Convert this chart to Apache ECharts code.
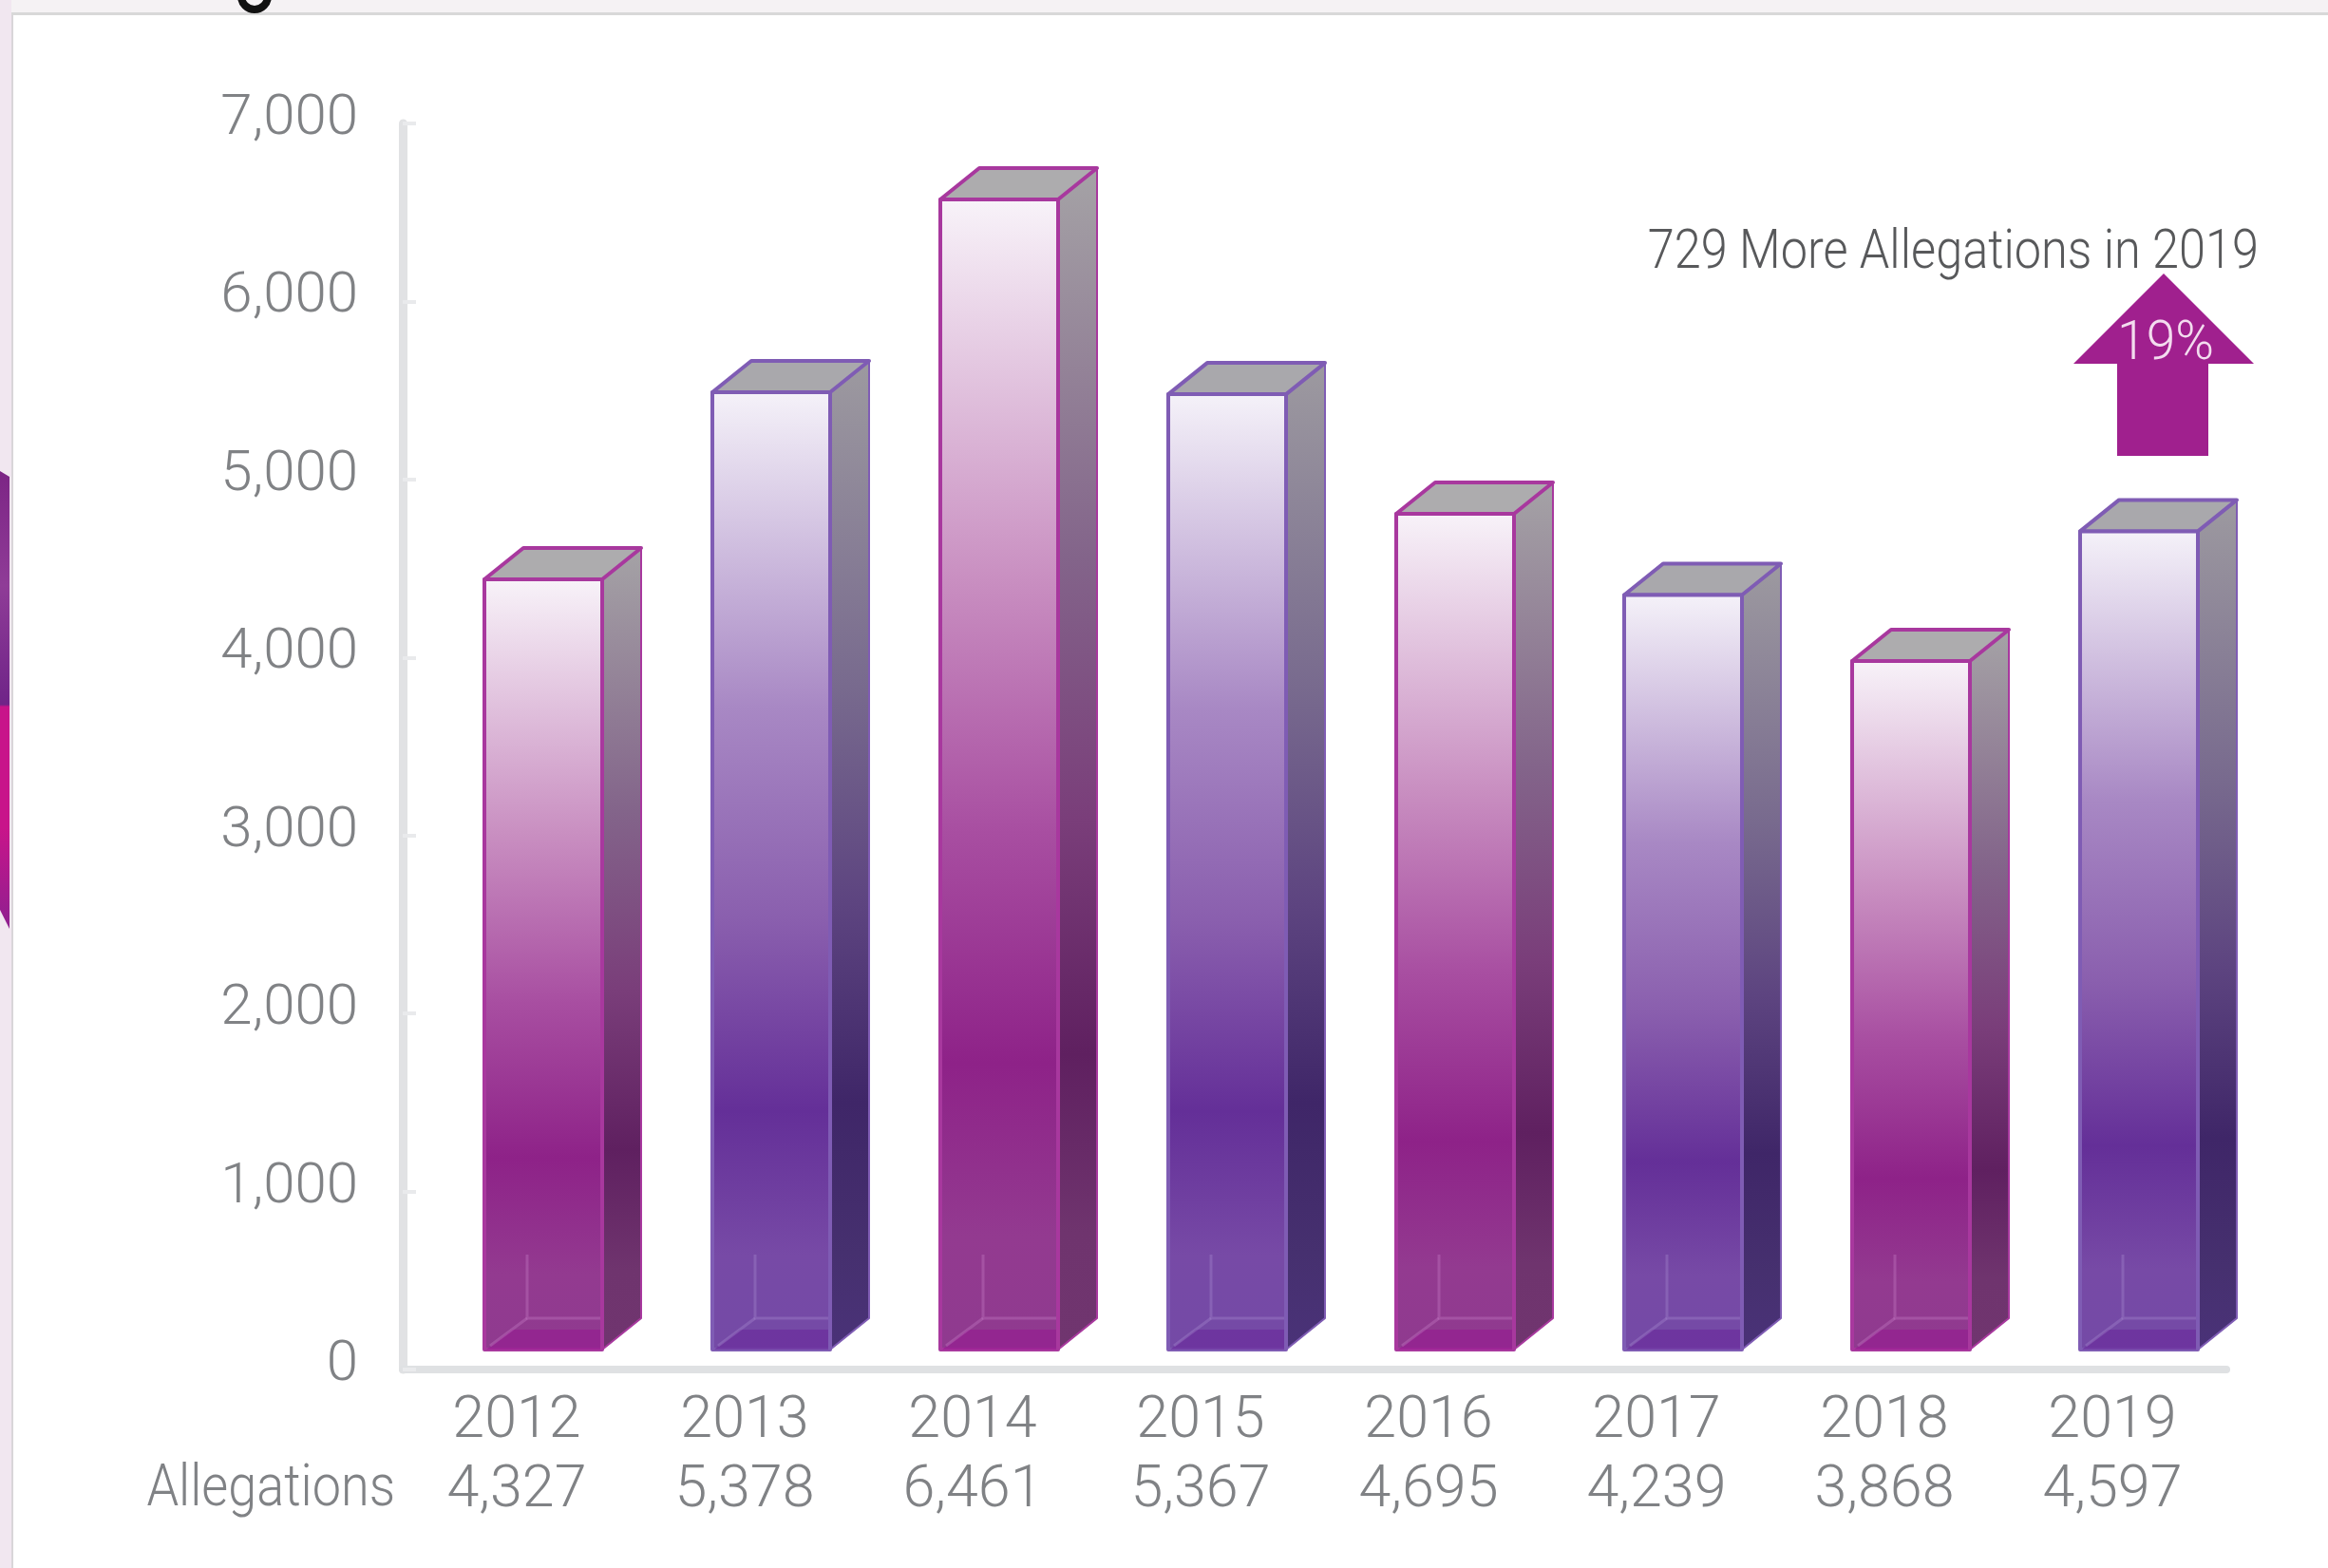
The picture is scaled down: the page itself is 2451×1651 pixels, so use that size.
<!DOCTYPE html>
<html>
<head>
<meta charset="utf-8">
<title>Allegations</title>
<script src="https://cdn.jsdelivr.net/npm/echarts@6/dist/echarts.min.js"></script>
<style>
  html, body { margin: 0; padding: 0; background: #fff; }
  #main { width: 2451px; height: 1651px; }
</style>
</head>
<body>
<div id="main"></div>
<script>
var years = ["2012", "2013", "2014", "2015", "2016", "2017", "2018", "2019"];
var allegations = [4327, 5378, 6461, 5367, 4695, 4239, 3868, 4597];
var rowLabel = "Allegations";
var noteText = "729 More Allegations in 2019";
var arrowText = "19%";

var font = "Roboto";
var textGrey = "#808285";

// box sizes, picture of the bar sits a bit above and right of the axis slot
var barW = 124, depthX = 41, depthY = 33, shiftX = 28, shiftY = 21;

var tones = [
  {
    stroke: "#a8389e",
    top: "#adacae",
    floor: "rgba(150,25,145,0.6)",
    line: "rgba(200,130,200,0.35)",
    front: ["#f8f3f9", "#c98fc1", "#a84ea1", "#8e2288", "#933a90", "#8f3a8f"],
    side: ["#a5a3a6", "#83648a", "#7a3e7a", "#5f2060", "#6f346e", "#70356f"],
  },
  {
    stroke: "#7f5cb4",
    top: "#a9a8ac",
    floor: "rgba(105,40,155,0.6)",
    line: "rgba(170,140,210,0.35)",
    front: ["#f5f2f9", "#a888c4", "#8a5fae", "#642f98", "#774aa6", "#744aa6"],
    side: ["#9d9aa0", "#786a8e", "#5d4480", "#3f2668", "#46306f", "#4a3278"],
  },
];

function grad(stops) {
  var pos = [0, 0.33, 0.55, 0.75, 0.9, 1];
  return new echarts.graphic.LinearGradient(0, 0, 0, 1, stops.map(function (c, i) {
    return { offset: pos[i], color: c };
  }));
}

function drawBar(params, api) {
  var i = api.value(0);
  var t = api.coord([i, api.value(1)]);
  var b = api.coord([i, 0]);
  var tone = tones[i % 2];
  var l = t[0] + shiftX - barW / 2;
  var r = l + barW;
  var top = t[1] - shiftY;
  var bot = b[1] - shiftY;
  var edge = { stroke: tone.stroke, lineWidth: 4, lineJoin: "round" };
  return {
    type: "group",
    children: [
      {
        type: "polygon",
        shape: { points: [[r, top], [r + depthX, top - depthY], [r + depthX, bot - depthY], [r, bot]] },
        style: Object.assign({ fill: grad(tone.side) }, edge, { lineWidth: 2 }),
      },
      {
        type: "polygon",
        shape: { points: [[l, top], [l + depthX, top - depthY], [r + depthX, top - depthY], [r, top]] },
        style: Object.assign({ fill: tone.top }, edge),
      },
      {
        type: "rect",
        shape: { x: l, y: top, width: barW, height: bot - top },
        style: Object.assign({ fill: grad(tone.front) }, edge),
      },
      {
        type: "polygon",
        shape: { points: [[l + 2, bot], [r - 2, bot], [r - 2, bot - depthY + 12], [l + depthX - 12, bot - depthY + 12]] },
        style: { fill: tone.floor },
      },
      {
        type: "polyline",
        shape: { points: [[l + depthX + 4, bot - 100], [l + depthX + 4, bot - depthY], [r - 2, bot - depthY]] },
        style: { fill: null, stroke: tone.line, lineWidth: 3 },
      },
      {
        type: "line",
        shape: { x1: l + depthX + 4, y1: bot - depthY, x2: l + 6, y2: bot - 4 },
        style: { stroke: tone.line, lineWidth: 3 },
      },
    ],
  };
}

var myChart = echarts.init(document.getElementById("main"));
var option = {
  backgroundColor: "#fff",
  animation: false,
  textStyle: { fontFamily: font },
  grid: { left: 424, top: 130, width: 1920, height: 1312 },
  xAxis: {
    type: "category",
    data: years,
    axisTick: { show: false },
    axisLine: { lineStyle: { color: "#dfe1e3", width: 8 } },
    axisLabel: {
      interval: 0,
      margin: 19,
      fontFamily: font,
      fontWeight: 300,
      fontSize: 61,
      lineHeight: 73,
      color: textGrey,
      formatter: function (v, i) {
        return v + "\n" + allegations[i].toLocaleString("en-US");
      },
    },
  },
  yAxis: {
    type: "value",
    min: 0,
    max: 7000,
    interval: 1000,
    splitLine: { show: false },
    axisLine: { show: true, lineStyle: { color: "#e1e2e4", width: 9 } },
    axisTick: { show: true, inside: true, length: 14, lineStyle: { color: "#e9eaec", width: 4 } },
    axisLabel: {
      margin: 47,
      fontFamily: font,
      fontWeight: 300,
      fontSize: 60,
      color: textGrey,
      // lifts the labels a little above their ticks, as in the source
      verticalAlign: "bottom",
      lineHeight: 8,
      formatter: function (v) {
        return v.toLocaleString("en-US");
      },
    },
  },
  series: [
    {
      type: "custom",
      renderItem: drawBar,
      encode: { x: 0, y: 1 },
      data: allegations.map(function (v, i) {
        return [i, v];
      }),
      clip: false,
    },
  ],
  graphic: [
    // page behind the panel
    { type: "rect", shape: { x: 0, y: 0, width: 2451, height: 14 }, style: { fill: "#f5f2f4" }, silent: true },
    { type: "rect", shape: { x: 0, y: 0, width: 12, height: 1651 }, style: { fill: "#f1e7f0" }, silent: true },
    {
      type: "polygon",
      shape: { points: [[0, 496], [10, 502], [10, 978], [0, 958]] },
      style: {
        fill: new echarts.graphic.LinearGradient(0, 0, 0, 1, [
          { offset: 0, color: "#7c2585" },
          { offset: 0.25, color: "#8f3c97" },
          { offset: 0.51, color: "#6f2488" },
          { offset: 0.515, color: "#c8148a" },
          { offset: 0.78, color: "#c8148a" },
          { offset: 1, color: "#8e2090" },
        ]),
      },
      silent: true,
    },
    { type: "rect", shape: { x: 12, y: 14, width: 2, height: 1637 }, style: { fill: "#d9d6d9" }, silent: true },
    { type: "rect", shape: { x: 12, y: 13, width: 2439, height: 3 }, style: { fill: "#d8d8d8" }, silent: true },
    {
      type: "arc",
      shape: { cx: 268, cy: -4, r: 14, startAngle: 0, endAngle: Math.PI },
      style: { stroke: "#111", lineWidth: 8, fill: null },
      silent: true,
    },
    // the note and arrow over 2019
    {
      type: "text",
      x: 2378,
      y: 267,
      scaleX: 0.87,
      style: {
        text: noteText,
        fontFamily: font,
        fontWeight: 300,
        fontSize: 58,
        fill: "#58595b",
        textAlign: "right",
        textVerticalAlign: "middle",
      },
    },
    {
      type: "polygon",
      shape: { points: [[2278, 288], [2373, 383], [2325, 383], [2325, 480], [2229, 480], [2229, 383], [2183, 383]] },
      style: { fill: "#a0208e" },
    },
    {
      type: "text",
      x: 2280,
      y: 363,
      scaleX: 0.95,
      z: 10,
      style: {
        text: arrowText,
        fontFamily: font,
        fontWeight: 300,
        fontSize: 58,
        fill: "#f3dcef",
        textAlign: "center",
        textVerticalAlign: "middle",
      },
    },
    {
      type: "text",
      x: 416,
      y: 1570,
      scaleX: 0.885,
      style: {
        text: rowLabel,
        fontFamily: font,
        fontWeight: 300,
        fontSize: 61,
        fill: textGrey,
        textAlign: "right",
        textVerticalAlign: "middle",
      },
    },
  ],
};
myChart.setOption(option);
</script>
</body>
</html>
